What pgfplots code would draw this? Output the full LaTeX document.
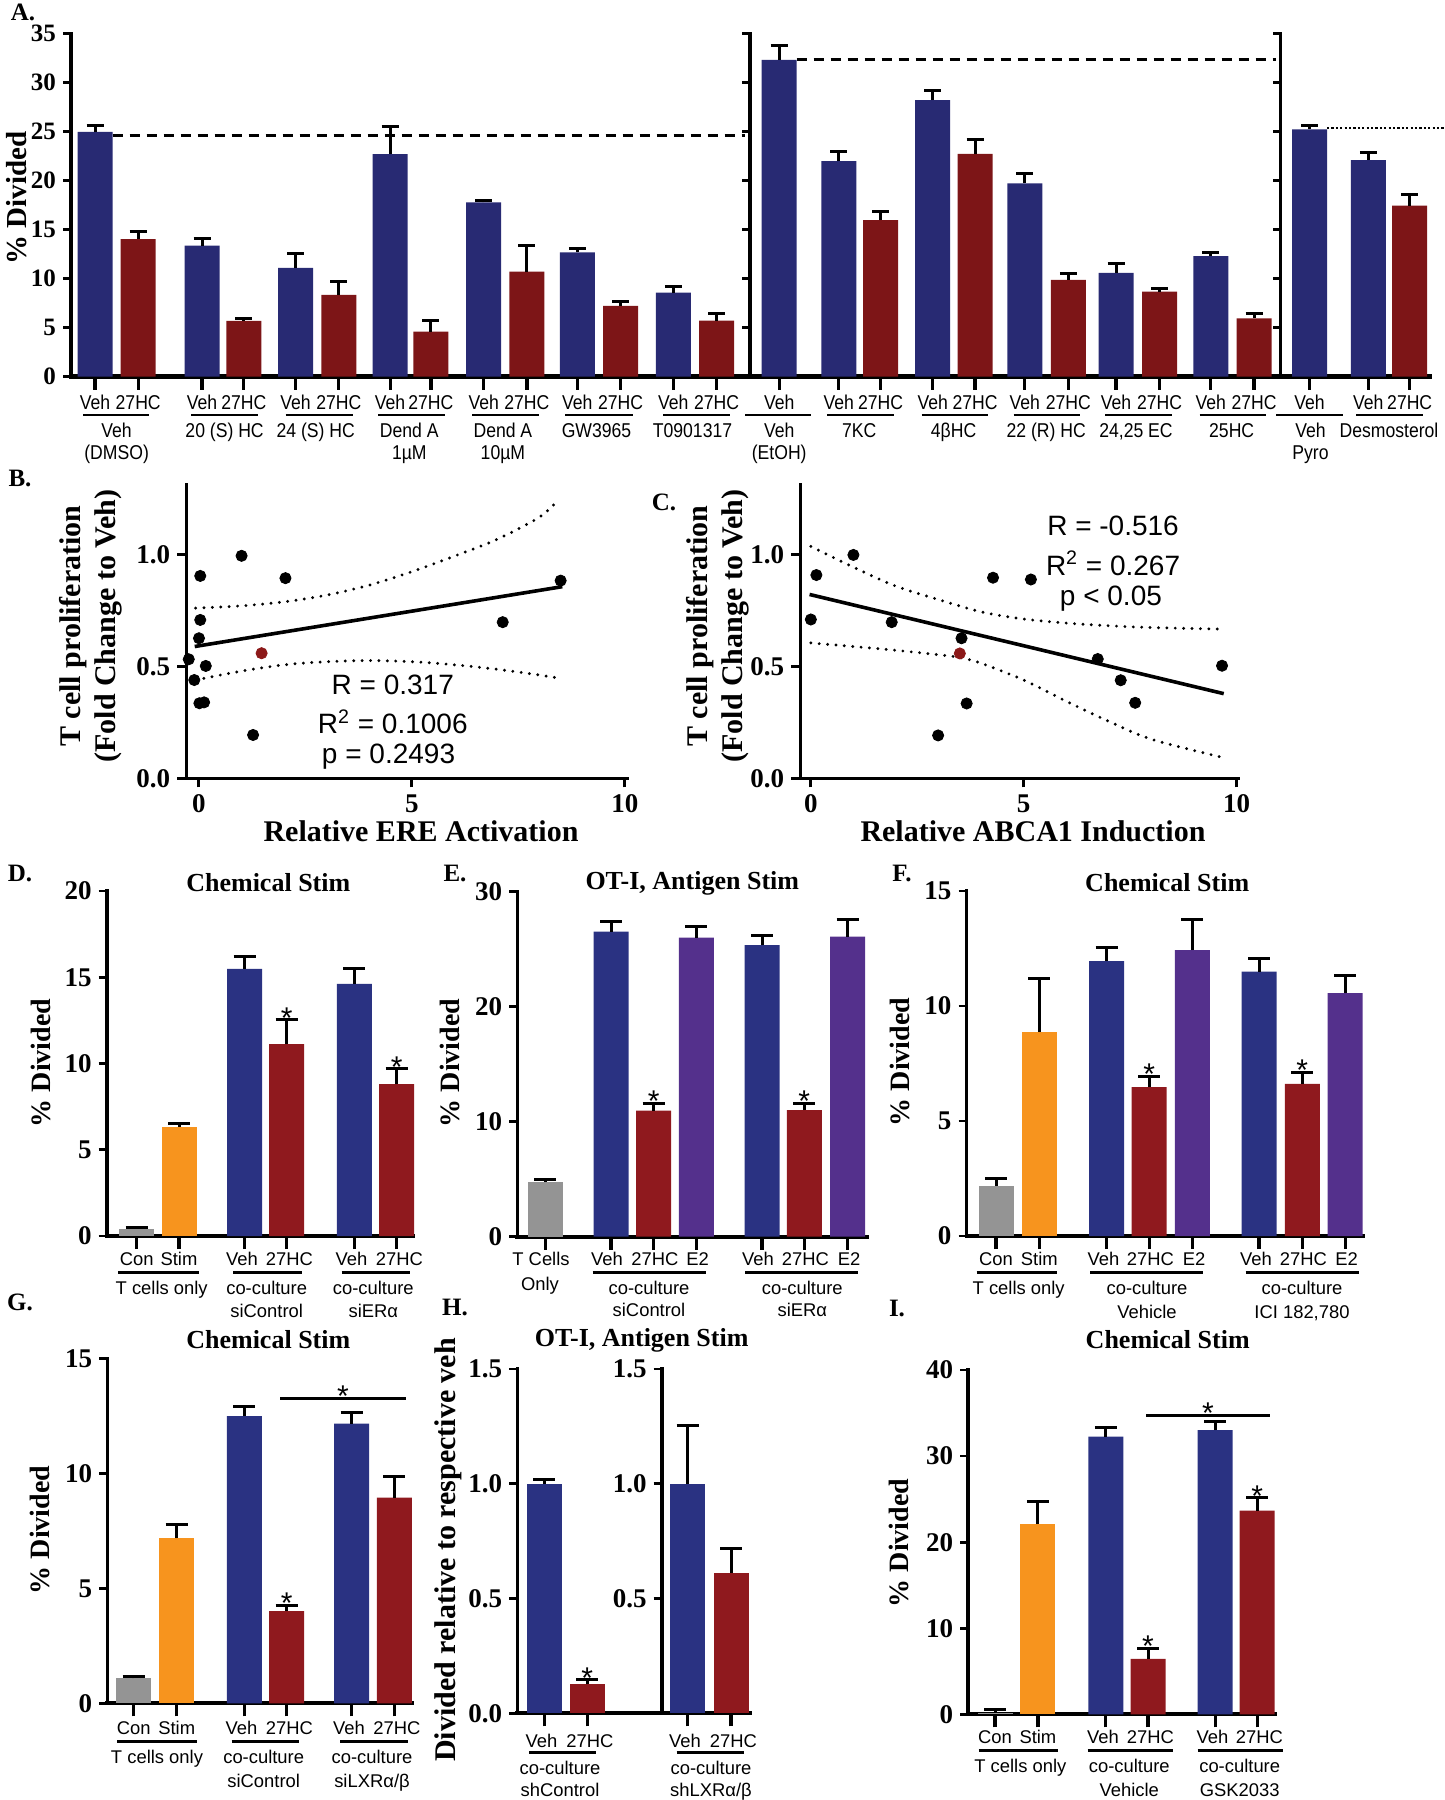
\documentclass[border=0pt]{standalone}
\usepackage{fontspec}
\setmainfont{Liberation Serif}
\setsansfont{Liberation Sans}
\newfontfamily\nsans[FakeStretch=0.88]{Liberation Sans}
\newfontfamily\rsans{Liberation Sans}
\usepackage{pgfplots}
\pgfplotsset{compat=1.18}
\newcommand\fs[1]{\fontsize{#1}{#1}\selectfont}
\definecolor{ablue}{RGB}{40,42,115}
\definecolor{ared}{RGB}{125,21,23}
\definecolor{dblue}{RGB}{42,50,130}
\definecolor{dred}{RGB}{143,25,30}
\definecolor{dgray}{RGB}{148,148,148}
\definecolor{dorange}{RGB}{247,148,30}
\definecolor{dpurple}{RGB}{84,48,140}
\definecolor{sred}{RGB}{140,25,25}
\newcommand\sstar[2]{\node[font=\rsans\fs{15}, anchor=base, inner sep=0pt, yshift=-4.3pt] at (axis cs:#1,#2) {*};}
\pgfplotsset{
  gp/.style={scale only axis, enlargelimits=false, clip=false, anchor=south west,
    axis x line*=bottom, axis y line*=left,
    axis line style={-, line cap=rect},
    x axis line style={line width=2pt},
    y axis line style={line width=1.8pt},
    tick align=outside, major tick length=4pt,
    xtick style={line width=1.6pt, black, /pgfplots/major tick length=6.5pt},
    ytick style={line width=1.4pt, black},
    xticklabels={},
    yticklabel style={font=\bfseries\fs{13.5}},
    /pgf/number format/assume math mode=true},
  mybar/.style 2 args={ybar, bar shift=0pt, bar width=17.5pt, draw=none, fill=#1,
    error bars/y dir=plus, error bars/y explicit,
    error bars/error mark=-,
    error bars/error bar style={line width=1.5pt, black},
    error bars/error mark options={rotate=90, line width=1.5pt, black, mark size=#2}},
  sc/.style={scale only axis, enlargelimits=false, clip=false, anchor=south west,
    axis x line*=bottom, axis y line*=left,
    axis line style={-, line width=1.7pt, line cap=rect},
    tick align=outside, major tick length=4.5pt,
    tick style={line width=1.5pt, black},
    ticklabel style={font=\bfseries\fs{13.5}},
    /pgf/number format/assume math mode=true,
    xmin=-0.3, xmax=10.05, ymin=0, ymax=1.313,
    xtick={0,5,10}, ytick={0,0.5,1},
    yticklabel style={/pgf/number format/.cd, fixed, fixed zerofill, precision=1}},
  band/.style={black, line width=1.6pt, line cap=round, dash pattern=on 0pt off 4.2pt, smooth},
}
\begin{document}
\begin{tikzpicture}
\path[use as bounding box] (0,0) rectangle (722.5pt,-900pt);

% ---------------- A ----------------
\begin{axis}[gp, at={(35.5pt,-188.25pt)}, width=679.5pt, height=171.5pt,
  xmin=71, xmax=1430, ymin=0, ymax=35, ytick={0,5,...,35},
  xtick={95.0,138.2,202.0,243.8,295.6,338.8,390.1,430.9,483.7,526.9,577.3,620.5,673.3,716.5,779.2,838.8,880.6,932.7,975.0,1024.8,1068.4,1116.0,1159.6,1210.8,1254.0,1309.6,1368.3,1409.7},
  yticklabel style={font=\bfseries\fs{12.5}},
  x axis line style={line width=2.4pt}, y axis line style={line width=1.7pt}]
\addplot[mybar={ablue}{4.25pt}] coordinates {
 (95.0,24.97) +- (0,0.68) (202.0,13.35) +- (0,0.72) (295.6,11.08) +- (0,1.5)
 (390.1,22.7) +- (0,2.8) (483.7,17.77) +- (0,0.2) (577.3,12.67) +- (0,0.38)
 (673.3,8.56) +- (0,0.65) (779.2,32.3) +- (0,1.5) (838.8,21.98) +- (0,1.0)
 (932.7,28.2) +- (0,1.0) (1024.8,19.7) +- (0,1.0) (1116.0,10.58) +- (0,0.96)
 (1210.8,12.29) +- (0,0.34) (1309.6,25.22) +- (0,0.4) (1368.3,22.08) +- (0,0.8)};
\addplot[mybar={ared}{4.25pt}] coordinates {
 (138.2,14.03) +- (0,0.8) (243.8,5.67) +- (0,0.2) (338.8,8.32) +- (0,1.36)
 (430.9,4.59) +- (0,1.1) (526.9,10.7) +- (0,2.65) (620.5,7.2) +- (0,0.5)
 (716.5,5.7) +- (0,0.75) (880.6,15.97) +- (0,0.9) (975.0,22.73) +- (0,1.5)
 (1068.4,9.86) +- (0,0.65) (1159.6,8.67) +- (0,0.3) (1254.0,5.94) +- (0,0.54)
 (1409.7,17.44) +- (0,1.16)};
\addplot[black, line width=1.5pt, dash pattern=on 5pt off 3.5pt] coordinates {(112.5,24.57) (745,24.57)};
\addplot[black, line width=1.5pt, dash pattern=on 5pt off 3.5pt] coordinates {(796.7,32.3) (1276,32.3)};
\addplot[black, line width=1.1pt, dash pattern=on 1.1pt off 1.1pt] coordinates {(1327,25.36) (1445,25.36)};
\draw[line width=1.7pt, line cap=rect] (axis cs:750,0) -- (axis cs:750,35);
\draw[line width=1.7pt, line cap=rect] (axis cs:1280.7,0) -- (axis cs:1280.7,35);
\pgfplotsinvokeforeach{0,5,10,15,20,25,30,35}{
  \draw[line width=1.4pt] (axis cs:750,#1) -- ++(-4pt,0pt);
  \draw[line width=1.4pt] (axis cs:1280.7,#1) -- ++(-4pt,0pt);
}
\end{axis}

% ---------------- B ----------------
\begin{axis}[sc, at={(93.1pt,-389.15pt)}, width=220.45pt, height=146.65pt]
\addplot[band] coordinates {(-0.08,0.762) (1,0.772) (2,0.79) (3,0.82) (4,0.865) (5,0.925) (6,0.995) (7,1.07) (8,1.17) (8.45,1.25)};
\addplot[band] coordinates {(-0.08,0.44) (1,0.48) (2,0.508) (3,0.522) (4,0.527) (5,0.522) (6,0.508) (7,0.488) (8,0.462) (8.45,0.448)};
\addplot[black, line width=1.8pt] coordinates {(-0.1,0.59) (8.53,0.858)};
\addplot[only marks, mark=*, mark size=2.8pt, black] coordinates {
 (1.0,0.996) (0.03,0.906) (2.03,0.896) (8.49,0.885) (0.03,0.709) (7.13,0.699)
 (0.0,0.627) (-0.24,0.533) (0.16,0.503) (-0.11,0.44) (0.01,0.336) (0.12,0.34) (1.27,0.194)};
\addplot[only marks, mark=*, mark size=2.8pt, sred] coordinates {(1.47,0.56)};
\node[font=\rsans\fs{14}] at (axis cs:4.55,0.418) {R = 0.317};
\node[font=\rsans\fs{14}] at (axis cs:4.55,0.254) {R\textsuperscript{2} = 0.1006};
\node[font=\rsans\fs{14}] at (axis cs:4.45,0.097) {p = 0.2493};
\end{axis}

% ---------------- C ----------------
\begin{axis}[sc, at={(400.1pt,-389.15pt)}, width=219pt, height=146.65pt, xmin=-0.25, xmax=10.04]
\addplot[band] coordinates {(0,1.038) (1,0.945) (2,0.86) (3,0.8) (4,0.745) (5,0.713) (6,0.695) (7,0.683) (8,0.675) (9.6,0.668)};
\addplot[band] coordinates {(0,0.606) (1,0.59) (2,0.573) (3,0.553) (3.5,0.541) (4,0.515) (5,0.44) (6,0.345) (7,0.255) (8,0.175) (9.64,0.095)};
\addplot[black, line width=1.8pt] coordinates {(-0.03,0.823) (9.7,0.379)};
\addplot[only marks, mark=*, mark size=2.8pt, black] coordinates {
 (0,0.711) (0.13,0.910) (1.0,1.0) (1.9,0.699) (3.54,0.627) (4.28,0.898) (5.17,0.89)
 (6.74,0.534) (7.28,0.439) (7.62,0.338) (3.66,0.335) (2.99,0.192) (9.66,0.504)};
\addplot[only marks, mark=*, mark size=2.8pt, sred] coordinates {(3.5,0.559)};
\node[font=\rsans\fs{14}] at (axis cs:7.1,1.128) {R = -0.516};
\node[font=\rsans\fs{14}] at (axis cs:7.1,0.962) {R\textsuperscript{2} = 0.267};
\node[font=\rsans\fs{14}] at (axis cs:7.05,0.805) {p < 0.05};
\end{axis}

% ---------------- D ----------------
\begin{axis}[gp, at={(53.35pt,-618pt)}, width=153.3pt, height=172.5pt,
  xmin=106.7, xmax=413.3, ymin=0, ymax=20, ytick={0,5,10,15,20},
  xtick={136.7,179,244.7,286.7,354.3,396.7}]
\addplot[mybar={dgray}{5.5pt}] coordinates {(136.7,0.41) +- (0,0.08)};
\addplot[mybar={dorange}{5.5pt}] coordinates {(179,6.32) +- (0,0.2)};
\addplot[mybar={dblue}{5.5pt}] coordinates {(244.7,15.48) +- (0,0.75) (354.3,14.61) +- (0,0.87)};
\addplot[mybar={dred}{5.5pt}] coordinates {(286.7,11.13) +- (0,1.41) (396.7,8.81) +- (0,0.89)};
\sstar{286.7}{12.54}
\sstar{396.7}{9.70}
\end{axis}

% ---------------- E ----------------
\begin{axis}[gp, at={(258.65pt,-618.35pt)}, width=174.7pt, height=172.5pt,
  xmin=517.3, xmax=866.7, ymin=0, ymax=30, ytick={0,10,20,30},
  xtick={545.3,611,653.7,696.3,762,804.3,847.7}]
\addplot[mybar={dgray}{5.5pt}] coordinates {(545.3,4.75) +- (0,0.23)};
\addplot[mybar={dblue}{5.5pt}] coordinates {(611,26.52) +- (0,0.87) (762,25.36) +- (0,0.87)};
\addplot[mybar={dred}{5.5pt}] coordinates {(653.7,10.96) +- (0,0.64) (804.3,11.01) +- (0,0.61)};
\addplot[mybar={dpurple}{5.5pt}] coordinates {(696.3,26.0) +- (0,0.96) (847.7,26.09) +- (0,1.5)};
\sstar{653.7}{11.6}
\sstar{804.3}{11.62}
\end{axis}

% ---------------- F ----------------
\begin{axis}[gp, at={(483.25pt,-618pt)}, width=198.15pt, height=172.5pt,
  xmin=966.5, xmax=1362.8, ymin=0, ymax=15, ytick={0,5,10,15},
  xtick={996,1039.3,1106.6,1149.1,1192.4,1259,1302.3,1345.1}]
\addplot[mybar={dgray}{5.5pt}] coordinates {(996,2.17) +- (0,0.33)};
\addplot[mybar={dorange}{5.5pt}] coordinates {(1039.3,8.87) +- (0,2.31)};
\addplot[mybar={dblue}{5.5pt}] coordinates {(1106.6,11.95) +- (0,0.61) (1259,11.5) +- (0,0.58)};
\addplot[mybar={dred}{5.5pt}] coordinates {(1149.1,6.47) +- (0,0.48) (1302.3,6.61) +- (0,0.51)};
\addplot[mybar={dpurple}{5.5pt}] coordinates {(1192.4,12.43) +- (0,1.33) (1345.1,10.56) +- (0,0.75)};
\sstar{1149.1}{6.95}
\sstar{1302.3}{7.12}
\end{axis}

% ---------------- G ----------------
\begin{axis}[gp, at={(53.65pt,-851.65pt)}, width=152.35pt, height=172.5pt,
  xmin=107.3, xmax=412, ymin=0, ymax=15, ytick={0,5,10,15},
  xtick={133.7,176.7,244.3,286.7,351.7,394.3}]
\addplot[mybar={dgray}{5.5pt}] coordinates {(133.7,1.09) +- (0,0.07)};
\addplot[mybar={dorange}{5.5pt}] coordinates {(176.7,7.17) +- (0,0.62)};
\addplot[mybar={dblue}{5.5pt}] coordinates {(244.3,12.49) +- (0,0.43) (351.7,12.16) +- (0,0.48)};
\addplot[mybar={dred}{5.5pt}] coordinates {(286.7,4.01) +- (0,0.26) (394.3,8.94) +- (0,0.91)};
\sstar{286.7}{4.27}
\draw[line width=1.5pt] (axis cs:280,13.26) -- (axis cs:406,13.26);
\sstar{343}{13.26}
\end{axis}

% ---------------- H ----------------
\begin{axis}[gp, at={(258.65pt,-856.65pt)}, width=116.35pt, height=172.15pt,
  xmin=517.3, xmax=750, ymin=0, ymax=1.5, ytick={0,0.5,1,1.5},
  xtick={544.3,587.3,687.7,731},
  yticklabel style={/pgf/number format/.cd, fixed, fixed zerofill, precision=1}]
\addplot[mybar={dblue}{5.5pt}] coordinates {(544.3,1.0) +- (0,0.02)};
\addplot[mybar={dred}{5.5pt}] coordinates {(587.3,0.126) +- (0,0.02)};
\sstar{587.3}{0.146}
\end{axis}
\begin{axis}[gp, at={(330.85pt,-856.65pt)}, width=44.15pt, height=172.15pt,
  xmin=661.7, xmax=750, ymin=0, ymax=1.5, ytick={0.5,1,1.5}, axis x line=none,
  yticklabel style={/pgf/number format/.cd, fixed, fixed zerofill, precision=1}]
\addplot[mybar={dblue}{5.5pt}] coordinates {(687.7,1.0) +- (0,0.256)};
\addplot[mybar={dred}{5.5pt}] coordinates {(731,0.613) +- (0,0.106)};
\end{axis}

% ---------------- I ----------------
\begin{axis}[gp, at={(484.1pt,-857.15pt)}, width=153.4pt, height=172.15pt,
  xmin=968.2, xmax=1275, ymin=0, ymax=40, ytick={0,10,20,30,40},
  xtick={995,1037.9,1105.8,1148,1215.1,1257.2}]
\addplot[mybar={dgray}{5.5pt}] coordinates {(995,0.19) +- (0,0.39)};
\addplot[mybar={dorange}{5.5pt}] coordinates {(1037.9,22.11) +- (0,2.56)};
\addplot[mybar={dblue}{5.5pt}] coordinates {(1105.8,32.26) +- (0,1.08) (1215.1,33.03) +- (0,0.97)};
\addplot[mybar={dred}{5.5pt}] coordinates {(1148,6.43) +- (0,1.24) (1257.2,23.66) +- (0,1.51)};
\sstar{1148}{7.67}
\sstar{1257.2}{25.17}
\draw[line width=1.5pt] (axis cs:1146,34.77) -- (axis cs:1270,34.77);
\sstar{1208}{34.77}
\end{axis}

% ---------------- text ----------------
\begin{scope}[x=0.5pt, y=-0.5pt,
  la/.style={font=\nsans\fs{10}, inner sep=0pt, anchor=base},
  ld/.style={font=\rsans\fs{9.2}, inner sep=0pt, anchor=base},
  pl/.style={font=\bfseries\fs{12.5}, inner sep=0pt},
  tt/.style={font=\bfseries\fs{13}, inner sep=0pt},
  yl/.style={font=\bfseries\fs{14}, inner sep=0pt, rotate=90}]
% panel letters
\node[pl] at (23,12) {A.};
\node[pl] at (20,478) {B.};
\node[pl] at (664,502) {C.};
\node[pl] at (20,873) {D.};
\node[pl] at (455,873) {E.};
\node[pl] at (902,873) {F.};
\node[pl] at (20,1302) {G.};
\node[pl] at (455,1307) {H.};
\node[pl] at (897,1308) {I.};
% A labels
\node[yl, font=\bfseries\fs{14.5}] at (17,198) {\% Divided};
\foreach \x in {95.0,202.0,295.6,390.1,483.7,577.3,673.3,779.2,838.8,932.7,1024.8,1116.0,1210.8,1309.6,1368.3} \node[la] at (\x,409) {Veh};
\foreach \x in {138.2,243.8,338.8,430.9,526.9,620.5,716.5,880.6,975.0,1068.4,1159.6,1254.0,1409.7} \node[la] at (\x,409) {27HC};
\foreach \a/\b in {83/149,191/258,285.5/352.7,378/445,472/539,565/632.5,663/730,745/811,827/893.5,921.6/988.3,1013.7/1080.4,1105/1171.7,1199.7/1266.4,1276/1343,1356/1423} \draw[line width=1.4pt] (\a,415) -- (\b,415);
\foreach \x/\t in {116.6/Veh,224.6/20 (S) HC,315.7/24 (S) HC,409.3/Dend A,502.9/Dend A,596.5/GW3965,692.5/T0901317,779.2/Veh,859.3/7KC,953.6/4βHC,1046.2/22 (R) HC,1136/24{,}25 EC,1231.7/25HC,1310.5/Veh,1389/Desmosterol} \node[la] at (\x,437) {\t};
\foreach \x/\t in {116.6/(DMSO),409.3/1µM,502.9/10µM,779.2/(EtOH),1310.5/Pyro} \node[la] at (\x,459) {\t};
% B, C labels
\node[font=\bfseries\fontsize{15}{17.3}\selectfont, rotate=90, align=center, inner sep=0pt] at (90.7,626) {T cell proliferation\\(Fold Change to Veh)};
\node[font=\bfseries\fontsize{15}{17.3}\selectfont, rotate=90, align=center, inner sep=0pt] at (718,626) {T cell proliferation\\(Fold Change to Veh)};
\node[font=\bfseries\fs{15}, inner sep=0pt] at (421,831) {Relative ERE Activation};
\node[font=\bfseries\fs{15}, inner sep=0pt] at (1033,831) {Relative ABCA1 Induction};
% titles
\node[tt] at (268.3,883) {Chemical Stim};
\node[tt] at (692.3,883) {OT-I, Antigen Stim};
\node[tt] at (1167.2,883) {Chemical Stim};
\node[tt] at (268.3,1340) {Chemical Stim};
\node[tt] at (641.7,1340) {OT-I, Antigen Stim};
\node[tt] at (1167.7,1340) {Chemical Stim};
% y labels
\node[yl] at (41,1063) {\% Divided};
\node[yl] at (450,1063) {\% Divided};
\node[yl] at (900,1062) {\% Divided};
\node[yl] at (40,1530) {\% Divided};
\node[yl] at (899,1543) {\% Divided};
\node[yl, font=\bfseries\fs{15}] at (448,1550) {Divided relative to respective veh};
% D labels
\foreach \x/\t in {136.7/Con,179/Stim,242/Veh,289.5/27HC,351.5/Veh,399.5/27HC} \node[ld] at (\x,1265) {\t};
\foreach \a/\b in {118.3/199,233.3/302.3,341.7/410} \draw[line width=1.5pt] (\a,1272) -- (\b,1272);
\foreach \x/\t in {161.7/T cells only,266.7/co-culture,373.3/co-culture} \node[ld] at (\x,1294) {\t};
\foreach \x/\t in {266.7/siControl,373.3/siERα} \node[ld] at (\x,1317) {\t};
% E labels
\foreach \x/\t in {541/T Cells,607/Veh,655/27HC,697.5/E2,758/Veh,805.5/27HC,849/E2} \node[ld] at (\x,1265) {\t};
\node[ld] at (540,1290) {Only};
\foreach \a/\b in {592.7/705.7,745/858} \draw[line width=1.5pt] (\a,1272) -- (\b,1272);
\foreach \x/\t in {649/co-culture,802.3/co-culture} \node[ld] at (\x,1294) {\t};
\foreach \x/\t in {649/siControl,802.3/siERα} \node[ld] at (\x,1316) {\t};
% F labels
\foreach \x/\t in {996/Con,1039.3/Stim,1103.5/Veh,1150.5/27HC,1194/E2,1256/Veh,1303.5/27HC,1346.5/E2} \node[ld] at (\x,1265) {\t};
\foreach \a/\b in {976.6/1057.3,1090/1203,1245.7/1359.2} \draw[line width=1.5pt] (\a,1272) -- (\b,1272);
\foreach \x/\t in {1018.7/T cells only,1147/co-culture,1302/co-culture} \node[ld] at (\x,1294) {\t};
\foreach \x/\t in {1147/Vehicle,1302/ICI 182{,}780} \node[ld] at (\x,1318) {\t};
% G labels
\foreach \x/\t in {133.7/Con,176.7/Stim,241.5/Veh,289.5/27HC,349/Veh,397/27HC} \node[ld] at (\x,1734.5) {\t};
\foreach \a/\b in {117/197,231.7/299.3,340/408} \draw[line width=1.5pt] (\a,1741.7) -- (\b,1741.7);
\foreach \x/\t in {157/T cells only,263.7/co-culture,372/co-culture} \node[ld] at (\x,1763) {\t};
\foreach \x/\t in {263.7/siControl,372/{siLXRα/β}} \node[ld] at (\x,1787) {\t};
% H labels
\foreach \x/\t in {541.5/Veh,590/27HC,685/Veh,733.5/27HC} \node[ld] at (\x,1747) {\t};
\foreach \a/\b in {529/596,676.7/744.3} \draw[line width=1.5pt] (\a,1752.7) -- (\b,1752.7);
\foreach \x/\t in {560/co-culture,711/co-culture} \node[ld] at (\x,1774) {\t};
\foreach \x/\t in {560/shControl,711/{shLXRα/β}} \node[ld] at (\x,1796) {\t};
% I labels
\foreach \x/\t in {995/Con,1037.9/Stim,1103/Veh,1150.5/27HC,1212.5/Veh,1259.5/27HC} \node[ld] at (\x,1743.5) {\t};
\foreach \a/\b in {978.6/1057.7,1087.5/1172.6,1197.6/1282.6} \draw[line width=1.5pt] (\a,1750.7) -- (\b,1750.7);
\foreach \x/\t in {1020.4/T cells only,1129.3/co-culture,1239.7/co-culture} \node[ld] at (\x,1772) {\t};
\foreach \x/\t in {1129.3/Vehicle,1239.7/GSK2033} \node[ld] at (\x,1796) {\t};
\end{scope}
\end{tikzpicture}
\end{document}
